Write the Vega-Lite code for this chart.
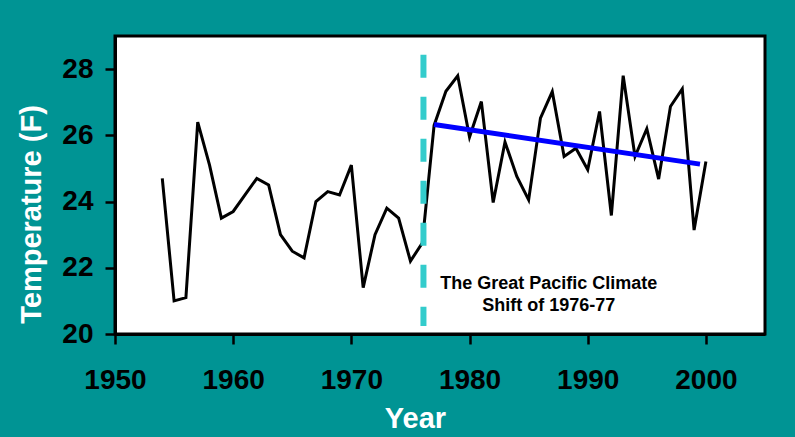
{
  "$schema": "https://vega.github.io/schema/vega-lite/v6.json",
  "width": 650,
  "height": 298,
  "autosize": {"type": "none"},
  "padding": {"left": 115, "top": 36, "right": 30, "bottom": 103},
  "background": "#009494",
  "config": {
    "font": "Liberation Sans",
    "view": {"fill": "white", "stroke": "black", "strokeWidth": 3}
  },
  "datasets": {
    "temps": [
      {"year": 1954, "temp": 24.7},
      {"year": 1955, "temp": 21.0},
      {"year": 1956, "temp": 21.1},
      {"year": 1957, "temp": 26.4},
      {"year": 1958, "temp": 25.1},
      {"year": 1959, "temp": 23.5},
      {"year": 1960, "temp": 23.7},
      {"year": 1961, "temp": 24.2},
      {"year": 1962, "temp": 24.7},
      {"year": 1963, "temp": 24.5},
      {"year": 1964, "temp": 23.0},
      {"year": 1965, "temp": 22.5},
      {"year": 1966, "temp": 22.3},
      {"year": 1967, "temp": 24.0},
      {"year": 1968, "temp": 24.3},
      {"year": 1969, "temp": 24.2},
      {"year": 1970, "temp": 25.1},
      {"year": 1971, "temp": 21.4},
      {"year": 1972, "temp": 23.0},
      {"year": 1973, "temp": 23.8},
      {"year": 1974, "temp": 23.5},
      {"year": 1975, "temp": 22.2},
      {"year": 1976, "temp": 22.75},
      {"year": 1977, "temp": 26.3},
      {"year": 1978, "temp": 27.33},
      {"year": 1979, "temp": 27.8},
      {"year": 1980, "temp": 25.95},
      {"year": 1981, "temp": 27.02},
      {"year": 1982, "temp": 23.97},
      {"year": 1983, "temp": 25.8},
      {"year": 1984, "temp": 24.76},
      {"year": 1985, "temp": 24.05},
      {"year": 1986, "temp": 26.52},
      {"year": 1987, "temp": 27.32},
      {"year": 1988, "temp": 25.36},
      {"year": 1989, "temp": 25.61},
      {"year": 1990, "temp": 24.96},
      {"year": 1991, "temp": 26.72},
      {"year": 1992, "temp": 23.58},
      {"year": 1993, "temp": 27.8},
      {"year": 1994, "temp": 25.36},
      {"year": 1995, "temp": 26.2},
      {"year": 1996, "temp": 24.68},
      {"year": 1997, "temp": 26.87},
      {"year": 1998, "temp": 27.4},
      {"year": 1999, "temp": 23.14},
      {"year": 2000, "temp": 25.21}
    ],
    "trend": [
      {"year": 1977, "temp": 26.33},
      {"year": 1999.5, "temp": 25.13}
    ],
    "shift": [
      {"year": 1976.1, "top": 28.43, "bottom": 20.24}
    ],
    "note": [
      {"year": 1986.7, "temp": 21.79}
    ]
  },
  "layer": [
    {
      "data": {"name": "temps"},
      "mark": {"type": "line", "color": "black", "strokeWidth": 3},
      "encoding": {
        "x": {
          "field": "year",
          "type": "quantitative",
          "scale": {"domain": [1950, 2005], "nice": false, "zero": false},
          "axis": {
            "values": [1950, 1960, 1970, 1980, 1990, 2000],
            "format": "d",
            "grid": false,
            "domainColor": "black",
            "domainWidth": 3,
            "tickColor": "black",
            "tickWidth": 2.5,
            "tickSize": 10,
            "labelFontSize": 28,
            "labelFontWeight": "bold",
            "labelColor": "black",
            "labelPadding": 22,
            "labelFlush": false,
            "labelOverlap": false,
            "title": "Year",
            "titleColor": "white",
            "titleFontSize": 29,
            "titleFontWeight": "bold",
            "titleX": 300,
            "titleY": 93,
            "titleBaseline": "alphabetic"
          }
        },
        "y": {
          "field": "temp",
          "type": "quantitative",
          "scale": {"domain": [20, 29], "nice": false, "zero": false},
          "axis": {
            "values": [20, 22, 24, 26, 28],
            "grid": false,
            "domainColor": "black",
            "domainWidth": 3,
            "tickColor": "black",
            "tickWidth": 2.5,
            "tickSize": 10,
            "labelFontSize": 28,
            "labelFontWeight": "bold",
            "labelColor": "black",
            "labelPadding": 12,
            "labelFlush": false,
            "labelOverlap": false,
            "title": "Temperature (F)",
            "titleColor": "white",
            "titleFontSize": 29,
            "titleFontWeight": "bold",
            "titleX": -84,
            "titleY": 178,
            "titleAlign": "center",
            "titleBaseline": "middle"
          }
        }
      }
    },
    {
      "data": {"name": "shift"},
      "mark": {"type": "rule", "color": "#33CCCC", "strokeWidth": 6, "strokeDash": [23, 19]},
      "encoding": {
        "x": {"field": "year", "type": "quantitative"},
        "y": {"field": "top", "type": "quantitative"},
        "y2": {"field": "bottom"}
      }
    },
    {
      "data": {"name": "trend"},
      "mark": {"type": "line", "color": "#0000FF", "strokeWidth": 5},
      "encoding": {
        "x": {"field": "year", "type": "quantitative"},
        "y": {"field": "temp", "type": "quantitative"}
      }
    },
    {
      "data": {"name": "note"},
      "mark": {
        "type": "text",
        "text": ["The Great Pacific Climate", "Shift of 1976-77"],
        "align": "center",
        "baseline": "top",
        "lineHeight": 22,
        "fontSize": 18,
        "fontWeight": "bold",
        "color": "black"
      },
      "encoding": {
        "x": {"field": "year", "type": "quantitative"},
        "y": {"field": "temp", "type": "quantitative"}
      }
    }
  ]
}
